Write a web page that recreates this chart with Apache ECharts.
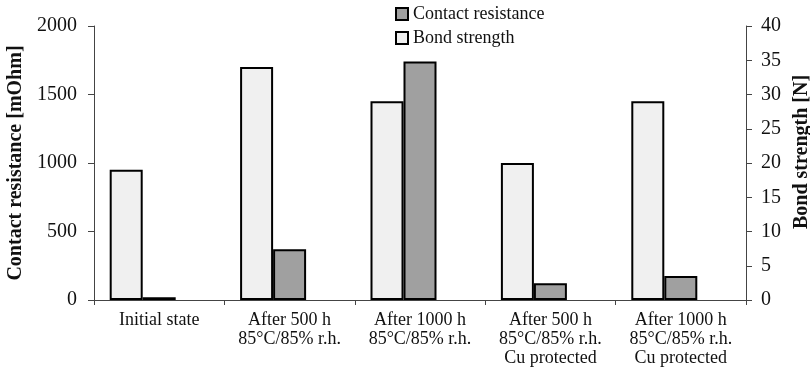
<!DOCTYPE html>
<html>
<head>
<meta charset="utf-8">
<script src="https://cdn.jsdelivr.net/npm/echarts@6/dist/echarts.min.js"></script>
<style>html,body{margin:0;padding:0;background:#fff}#c{width:810px;height:376px}</style>
</head>
<body>
<div id="c"></div>
<script>
var categories = ['Initial state', 'After 500 h\n85°C/85% r.h.', 'After 1000 h\n85°C/85% r.h.', 'After 500 h\n85°C/85% r.h.\nCu protected', 'After 1000 h\n85°C/85% r.h.\nCu protected'];
var contactResistance = [20, 370, 1740, 122, 175];
var bondStrength = [19, 34, 29, 20, 29];
var leftTicks = [0, 500, 1000, 1500, 2000];
var rightTicks = [0, 5, 10, 15, 20, 25, 30, 35, 40];

var font = '"Liberation Serif", "Times New Roman", serif';
var axisColor = '#444';
var chart = echarts.init(document.getElementById('c'), null, {renderer: 'canvas'});
chart.setOption({
  animation: false,
  backgroundColor: '#fff',
  textStyle: {fontFamily: font, color: '#111'},
  legend: {
    data: ['Contact resistance', 'Bond strength'],
    orient: 'vertical',
    left: 390, top: 0,
    itemWidth: 12, itemHeight: 12, itemGap: 6,
    textStyle: {fontFamily: font, fontSize: 18, color: '#111'},
    icon: 'rect'
  },
  grid: {left: 94, right: 64, top: 26, bottom: 76, containLabel: false, outerBoundsMode: 'none'},
  xAxis: {
    type: 'category',
    data: categories,
    axisLine: {lineStyle: {color: axisColor, width: 1}},
    axisTick: {show: true, length: 5, inside: false, lineStyle: {color: axisColor}},
    axisLabel: {fontFamily: font, fontSize: 18, color: '#111', margin: 11, lineHeight: 19, interval: 0}
  },
  yAxis: [{
    type: 'value', min: leftTicks[0], max: leftTicks[leftTicks.length - 1], interval: 500,
    position: 'left',
    name: 'Contact resistance [mOhm]', nameLocation: 'middle', nameGap: 66,
    nameTextStyle: {fontFamily: font, fontSize: 20, fontWeight: 'bold', color: '#111'},
    axisLine: {show: true, lineStyle: {color: axisColor}},
    axisTick: {show: true, length: 6, lineStyle: {color: axisColor}},
    axisLabel: {fontFamily: font, fontSize: 20, color: '#111', margin: 17, formatter: function (v) { return String(v); }},
    splitLine: {show: false}
  }, {
    type: 'value', min: rightTicks[0], max: rightTicks[rightTicks.length - 1], interval: 5,
    position: 'right',
    name: 'Bond strength [N]', nameLocation: 'middle', nameGap: 45,
    nameTextStyle: {fontFamily: font, fontSize: 20, fontWeight: 'bold', color: '#111', padding: [0, 0, 0, 22]},
    axisLine: {show: true, lineStyle: {color: axisColor}},
    axisTick: {show: true, length: 6, lineStyle: {color: axisColor}},
    axisLabel: {fontFamily: font, fontSize: 20, color: '#111', margin: 15, formatter: function (v) { return String(v); }},
    splitLine: {show: false}
  }],
  series: [{
    name: 'Bond strength', type: 'bar', yAxisIndex: 1, data: bondStrength,
    barWidth: 33, barGap: '0%',
    itemStyle: {color: '#f0f0f0', borderColor: '#000', borderWidth: 2}
  }, {
    name: 'Contact resistance', type: 'bar', yAxisIndex: 0, data: contactResistance,
    barWidth: 33, barGap: '0%',
    itemStyle: {color: '#a0a0a0', borderColor: '#000', borderWidth: 2}
  }, {
    name: 'spacer', type: 'bar', yAxisIndex: 0, data: [],
    barWidth: 33, barGap: '0%', silent: true
  }]
});
</script>
</body>
</html>
